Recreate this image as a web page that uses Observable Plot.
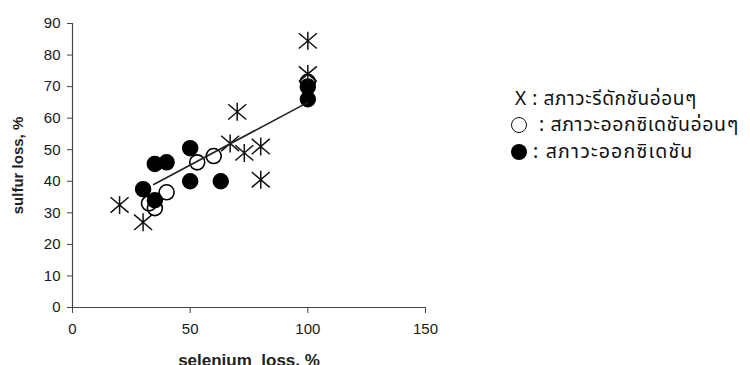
<!DOCTYPE html>
<html>
<head>
<meta charset="utf-8">
<script src="https://cdn.jsdelivr.net/npm/d3@7"></script>
<script src="https://cdn.jsdelivr.net/npm/@observablehq/plot@0.6"></script>
<style>
  html, body { margin: 0; padding: 0; background: #fff; }
  #wrap { position: relative; width: 750px; height: 365px; overflow: hidden; }
  #legend { position: absolute; left: 0; top: 0; font-family: "Noto Sans Thai", "Noto Sans Thai UI", "Noto Sans", "DejaVu Sans", sans-serif; color: #111; }
  .row { position: absolute; white-space: nowrap; line-height: 20px; }
  .sym { position: absolute; box-sizing: border-box; border-radius: 50%; }
</style>
</head>
<body>
<div id="wrap"><div id="legend"></div></div>
<script>
// ---- data ----
const starX = [100, 100, 70, 67, 73, 80, 80, 20, 30];
const starY = [84.5, 74, 62, 52, 49, 51, 40.5, 32.5, 27];
const openX = [53, 60, 40, 32.5, 35, 100];
const openY = [46, 48, 36.5, 33, 31.5, 71.5];
const filledX = [50, 35, 40, 30, 35, 50, 63, 100, 100];
const filledY = [50.5, 45.5, 46, 37.5, 34, 40, 40, 70, 66];
const fitX = [34.5, 100];
const fitY = [39, 65];
const xTicks = [0, 50, 100, 150];
const yTicks = [0, 10, 20, 30, 40, 50, 60, 70, 80, 90];
const xLabel = "selenium  loss, %";
const yLabel = "sulfur loss, %";
const legendLabels = ["X : สภาวะรีดักชันอ่อนๆ", ": สภาวะออกซิเดชันอ่อนๆ", ": สภาวะออกซิเดชัน"];

const stars = starX.map((x, i) => ({x, y: starY[i]}));
const opens = openX.map((x, i) => ({x, y: openY[i]}));
const filled = filledX.map((x, i) => ({x, y: filledY[i]}));
const fit = fitX.map((x, i) => ({x, y: fitY[i]}));

const asterisk = {
  draw(ctx, size) {
    const r = Math.sqrt(size / Math.PI);
    const w = r, h = r * 0.85;
    ctx.moveTo(0, -r); ctx.lineTo(0, r);
    ctx.moveTo(-w, -h); ctx.lineTo(w, h);
    ctx.moveTo(-w, h); ctx.lineTo(w, -h);
  }
};

const font = "'Liberation Sans', Arial, sans-serif";

const chart = Plot.plot({
  width: 750,
  height: 365,
  marginLeft: 72,
  marginRight: 325,
  marginTop: 23,
  marginBottom: 58,
  style: {fontFamily: font, background: "white", overflow: "visible"},
  x: {domain: [0, 150]},
  y: {domain: [0, 90]},
  marks: [
    Plot.ruleY([0], {x1: 0, x2: 150, stroke: "#444", strokeWidth: 1.2}),
    Plot.ruleX([0], {y1: 0, y2: 90, stroke: "#444", strokeWidth: 1.2}),
    Plot.axisX({ticks: xTicks, tickSize: 6, tickPadding: 10, fontSize: 15, label: null, stroke: "#444", color: "#1a1a1a"}),
    Plot.axisY({ticks: yTicks, tickSize: 5, tickPadding: 7, fontSize: 15, label: null, stroke: "#444", color: "#1a1a1a"}),
    Plot.text([xLabel], {frameAnchor: "bottom", dy: 58, lineAnchor: "bottom", textAnchor: "middle", fontSize: 17, fontWeight: "bold", fill: "#222"}),
    Plot.text([yLabel], {frameAnchor: "left", dx: -54, rotate: -90, textAnchor: "middle", fontSize: 15, fontWeight: "bold", fill: "#222"}),
    Plot.dot(opens, {x: "x", y: "y", r: 7.5, stroke: "#000", strokeWidth: 1.6, fill: "none"}),
    Plot.dot(filled, {x: "x", y: "y", r: 7.5, fill: "#000", stroke: "#000"}),
    Plot.dot(stars, {x: "x", y: "y", r: 9, symbol: asterisk, stroke: "#111", strokeWidth: 1.5, fill: "none"}),
    Plot.line(fit, {x: "x", y: "y", stroke: "#222", strokeWidth: 1.6})
  ]
});
document.getElementById("wrap").prepend(chart);
chart.style.position = "absolute";
chart.style.left = "0";
chart.style.top = "0";

// legend
const legend = document.getElementById("legend");
const rows = [
  {y: 100, sym: null, textX: 515, size: 19, ls: 0.6},
  {y: 125, sym: "open", textX: 539, size: 19.5, ls: 0.6},
  {y: 152, sym: "filled", textX: 533, size: 19.5, ls: 1.2}
];
rows.forEach((r, i) => {
  if (r.sym) {
    const s = document.createElement("div");
    s.className = "sym";
    const d = 16;
    s.style.width = d + "px"; s.style.height = d + "px";
    s.style.left = (519 - d / 2) + "px"; s.style.top = (r.y - d / 2) + "px";
    if (r.sym === "open") s.style.border = "1.5px solid #111";
    else s.style.background = "#000";
    legend.appendChild(s);
  }
  const t = document.createElement("div");
  t.className = "row";
  t.textContent = legendLabels[i];
  t.style.fontSize = r.size + "px";
  t.style.letterSpacing = r.ls + "px";
  t.style.left = r.textX + "px";
  t.style.top = (r.y - 10) + "px";
  legend.appendChild(t);
});
</script>
</body>
</html>
